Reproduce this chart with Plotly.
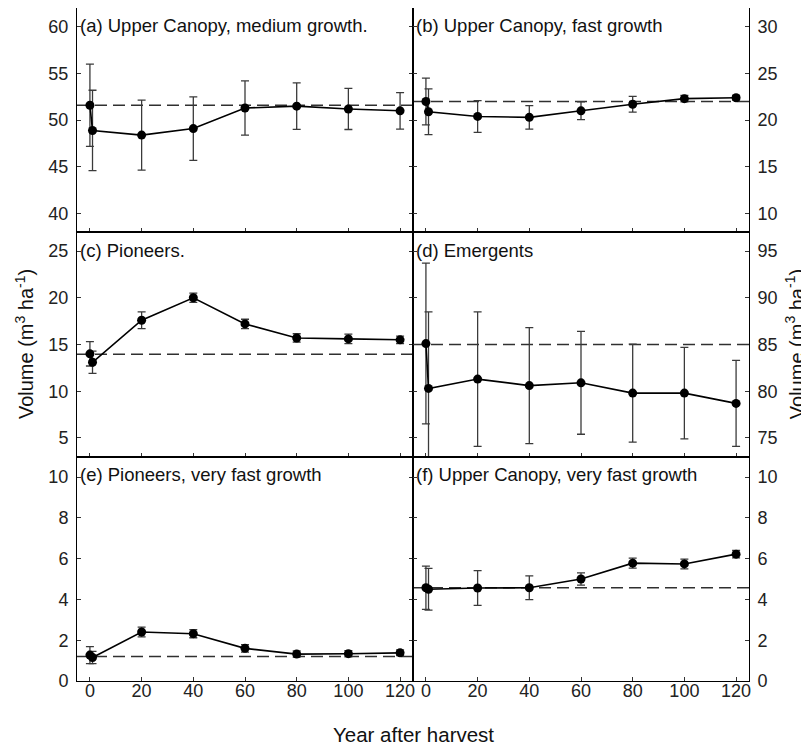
import plotly.graph_objects as go
from plotly.subplots import make_subplots

years = [0, 1, 20, 40, 60, 80, 100, 120]

a_vals = [51.6, 48.9, 48.4, 49.1, 51.3, 51.5, 51.2, 51.0]
a_err = [4.4, 4.3, 3.75, 3.4, 2.9, 2.48, 2.2, 1.95]
a_base = 51.6

b_vals = [22.0, 20.9, 20.4, 20.3, 21.0, 21.7, 22.3, 22.4]
b_err = [2.5, 2.45, 1.7, 1.25, 0.95, 0.85, 0.35, 0.25]
b_base = 22.0

c_vals = [14.0, 13.1, 17.6, 20.0, 17.2, 15.7, 15.6, 15.5]
c_err = [1.3, 1.2, 0.9, 0.5, 0.5, 0.45, 0.5, 0.4]
c_base = 13.95

d_vals = [85.1, 80.3, 81.3, 80.6, 80.9, 79.8, 79.8, 78.7]
d_err = [8.6, 8.2, 7.2, 6.2, 5.5, 5.25, 4.9, 4.6]
d_base = 85.0

e_vals = [1.27, 1.15, 2.4, 2.32, 1.6, 1.32, 1.34, 1.38]
e_err = [0.42, 0.3, 0.24, 0.2, 0.18, 0.15, 0.15, 0.14]
e_base = 1.2

f_vals = [4.57, 4.5, 4.56, 4.57, 5.0, 5.78, 5.74, 6.22]
f_err = [1.06, 1.02, 0.85, 0.58, 0.3, 0.25, 0.24, 0.18]
f_base = 4.57

panel_titles = ["(a) Upper Canopy, medium growth.", "(b) Upper Canopy, fast growth",
                "(c) Pioneers.", "(d) Emergents",
                "(e) Pioneers, very fast growth", "(f) Upper Canopy, very fast growth"]
y_ranges = [[38, 62], [8, 32], [3, 27], [73, 97], [0, 11], [0, 11]]
y_dticks = [5, 5, 5, 5, 2, 2]
x_ticks = [0, 20, 40, 60, 80, 100, 120]
x_range = [-5, 125]

series = [(a_vals, a_err, a_base), (b_vals, b_err, b_base),
          (c_vals, c_err, c_base), (d_vals, d_err, d_base),
          (e_vals, e_err, e_base), (f_vals, f_err, f_base)]

FONT = "Liberation Sans, Arial, sans-serif"

fig = make_subplots(rows=3, cols=2, horizontal_spacing=0, vertical_spacing=0)

for i, (vals, err, base) in enumerate(series):
    r = i // 2 + 1
    c = i % 2 + 1
    fig.add_trace(go.Scatter(
        x=years, y=vals, mode="lines+markers",
        line=dict(color="black", width=1.6),
        marker=dict(color="black", size=9),
        error_y=dict(type="data", array=err, visible=True,
                     color="#3a3a3a", thickness=1.3, width=4),
        showlegend=False, cliponaxis=True,
    ), row=r, col=c)
    idx = "" if i == 0 else str(i + 1)
    fig.add_shape(type="line", xref=f"x{idx} domain", yref=f"y{idx}",
                  x0=0, x1=1, y0=base, y1=base,
                  line=dict(color="#303030", width=1.6, dash="12px,6px"),
                  layer="below")
    fig.add_annotation(text=panel_titles[i], xref=f"x{idx} domain", yref=f"y{idx} domain",
                       x=0.004, y=0.92, xanchor="left", yanchor="middle",
                       showarrow=False, font=dict(family=FONT, size=18.5, color="#111"))
    fig.update_yaxes(range=y_ranges[i], dtick=y_dticks[i], tick0=0,
                     side="left" if c == 1 else "right",
                     ticks="inside", ticklen=4, tickwidth=1, tickcolor="#333",
                     showline=True, linecolor="black", linewidth=1, mirror="ticks",
                     showgrid=False, zeroline=False, automargin=False,
                     ticklabelstandoff=4,
                     tickfont=dict(family=FONT, size=18, color="#222"),
                     row=r, col=c)
    fig.update_xaxes(range=x_range, tickvals=x_ticks,
                     ticks="inside", ticklen=4, tickwidth=1, tickcolor="#333",
                     showline=True, linecolor="black", linewidth=1, mirror=True,
                     showgrid=False, zeroline=False, automargin=False,
                     showticklabels=False,
                     row=r, col=c)

# tick-label-only x axes for the bottom row, lifted closer to the frame
label_pos = 0.005
for name, over, yax, dom, vals in [("xaxis7", "x5", "y5", fig.layout.xaxis5.domain, e_vals),
                                   ("xaxis8", "x6", "y6", fig.layout.xaxis6.domain, f_vals)]:
    fig.layout[name] = dict(overlaying=over, anchor="free", position=label_pos,
                            domain=dom, range=x_range, tickvals=x_ticks,
                            showline=False, ticks="", showgrid=False, zeroline=False,
                            automargin=False, showticklabels=True,
                            tickfont=dict(family=FONT, size=18, color="#222"))
    fig.add_trace(go.Scatter(x=years, y=vals, xaxis=name.replace("axis", ""), yaxis=yax,
                             mode="none", hoverinfo="skip", showlegend=False))

ytitle = "Volume (m<sup>3</sup> ha<sup>-1</sup>)"
fig.add_annotation(text=ytitle, xref="paper", yref="paper", x=-0.078, y=0.5,
                   textangle=-90, showarrow=False, xanchor="center", yanchor="middle",
                   font=dict(family=FONT, size=20, color="#111"))
fig.add_annotation(text=ytitle, xref="paper", yref="paper", x=1.068, y=0.5,
                   textangle=-90, showarrow=False, xanchor="center", yanchor="middle",
                   font=dict(family=FONT, size=20, color="#111"))
fig.add_annotation(text="Year after harvest", xref="paper", yref="paper", x=0.5, y=-0.079,
                   showarrow=False, xanchor="center", yanchor="middle",
                   font=dict(family=FONT, size=20.5, color="#111"))

fig.update_layout(width=809, height=747,
                  margin=dict(l=69, r=68, t=0, b=74, autoexpand=False),
                  paper_bgcolor="white", plot_bgcolor="white",
                  font=dict(family=FONT))

fig.write_html("out.html")
